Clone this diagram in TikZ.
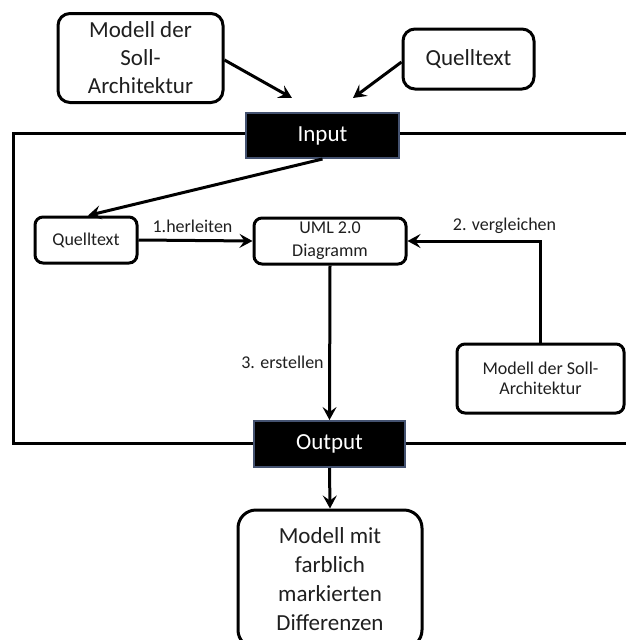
\documentclass[tikz,border=0pt]{standalone}
\usepackage{fontspec}
\setmainfont{Carlito}
\usetikzlibrary{arrows.meta,positioning}

\definecolor{slateedge}{RGB}{68,82,112}

\tikzset{
  roundbox/.style={draw=black, line width=3pt, rounded corners=#1, fill=white,
    align=center, inner sep=2pt, text=black!88},
  roundbox/.default=8pt,
  darkbox/.style={draw=slateedge, line width=2pt, fill=black,
    text=white, align=center, inner sep=0pt,
    font=\fontsize{23}{28}\selectfont},
  bigtext/.style={font=\fontsize{23}{28}\selectfont},
  smalltext/.style={font=\fontsize{18}{22}\selectfont},
  flow/.style={line width=3pt, -{Stealth[length=13pt,width=14pt,inset=5pt]}},
  frameline/.style={line width=3pt},
  steplabel/.style={font=\fontsize{18}{22}\selectfont, text=black!88, inner sep=0pt}
}

\begin{document}
\begin{tikzpicture}[x=1pt, y=-1pt]
  \useasboundingbox (0,0) rectangle (625,640);

  % frame coordinates
  \coordinate (fTL) at (13,133.5);
  \coordinate (fBL) at (13,443.5);
  \coordinate (fTR) at (630,133.5);
  \coordinate (fBR) at (630,443.5);

  % outer frame lines (drawn first, boxes sit on top)
  \draw[frameline] (fTR) -- (fTL) -- (fBL) -- (fBR);

  % sources above the process
  \node[roundbox=12pt, bigtext, minimum width=165pt, minimum height=89pt]
    (topmodel) at (140.5,58) {Modell der\\Soll-\\Architektur};
  \node[roundbox=12pt, bigtext, minimum width=131pt, minimum height=60pt]
    (topsrc) at (468.5,59) {Quelltext};

  % input / output
  \node[darkbox, minimum width=153pt, minimum height=45pt] (input) at (322.5,135.5) {Input};
  \node[darkbox, minimum width=151pt, minimum height=46pt] (output) at (329.5,444) {Output};

  % inner process nodes
  \node[roundbox, smalltext, minimum width=102pt, minimum height=46pt]
    (src) at (86,240) {Quelltext};
  \node[roundbox, font=\fontsize{18}{23}\selectfont, minimum width=152pt, minimum height=46pt]
    (uml) at (330,241) {UML 2.0\\Diagramm};
  \node[roundbox, font=\fontsize{18}{20}\selectfont, minimum width=167pt, minimum height=69pt]
    (soll) at (540.5,378.5) {Modell der Soll-\\Architektur};

  % result (runs off the lower edge)
  \node[roundbox=18pt, font=\fontsize{23}{29}\selectfont, minimum width=184pt, minimum height=138pt]
    (result) at (330,579) {Modell mit\\farblich\\markierten\\Differenzen};

  % arrow end points above the input box
  \coordinate (inL) at (292,98);
  \coordinate (inR) at (353,98);

  \draw[flow] (topmodel.east) ++(0,2) coordinate (tmout) -- (inL);
  \draw[flow] (topsrc.west) ++(0,3) coordinate (tsout) -- (inR);
  \draw[flow] (input.south) -- ([xshift=2pt]src.north);
  \draw[flow] (src.east) -- (uml.west);
  \draw[flow] (soll.north) |- (uml.east);
  \draw[flow] (uml.south) -- (output.north);
  \draw[flow] (output.south) -- (result.north);

  % step labels
  \node[steplabel] (l1) at (192.5,226) {1.herleiten};
  \node[steplabel] (l2) at (504.5,226) {2. vergleichen};
  \node[steplabel] (l3) at (282.5,362) {3. erstellen};
\end{tikzpicture}
\end{document}
